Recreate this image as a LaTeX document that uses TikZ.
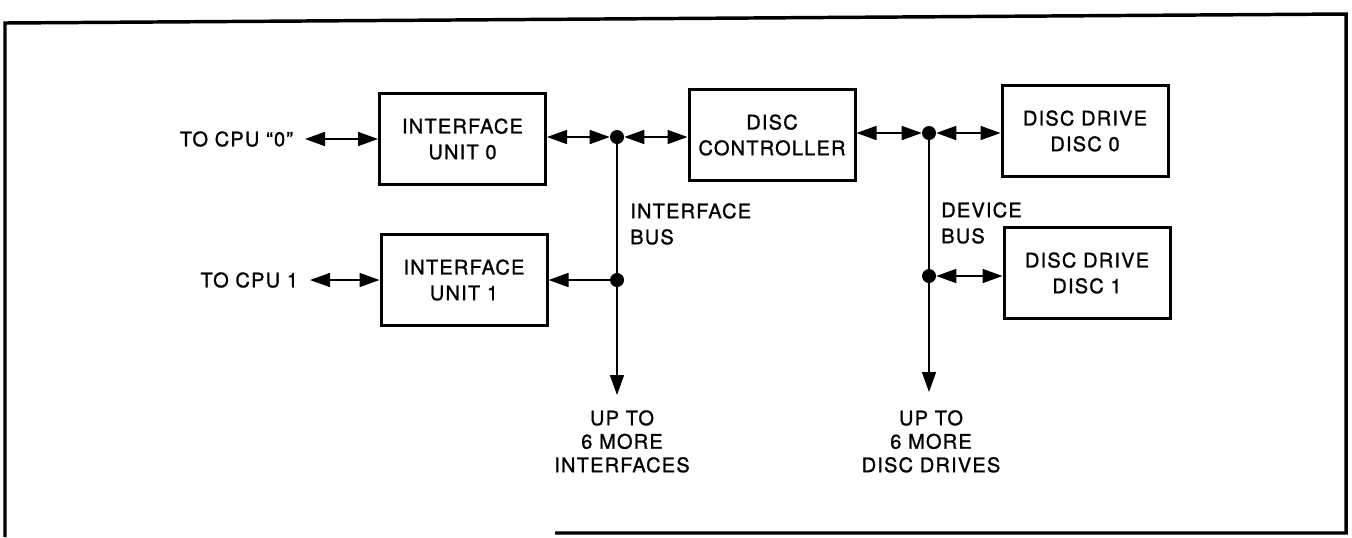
\documentclass[tikz,border=0pt]{standalone}
\usepackage{fontspec}
\setmainfont{TeX Gyre Heros}[LetterSpace=6,FakeBold=1.2]
\usetikzlibrary{arrows.meta}
\begin{document}
\begin{tikzpicture}[x=0.75pt,y=-0.75pt,
  box/.style={draw,line width=2.25pt,minimum width=124.5pt,minimum height=68.5pt,inner sep=0pt,align=center,font=\fontsize{15}{19.3}\selectfont},
  dot/.style={circle,fill,inner sep=0pt,minimum size=10.5pt},
  lbl/.style={inner sep=0pt,font=\fontsize{15}{19.5}\selectfont},
  lbl2/.style={inner sep=0pt,font=\fontsize{15}{17.6}\selectfont},
  conn/.style={line width=1.2pt},
  >={Triangle[length=15pt,width=10.5pt]}]
\useasboundingbox (0,0) rectangle (1352,537);
% frame
\draw[line width=2.6pt,line join=miter] (5,537) -- (5,23) -- (1346,14) -- (1346,533) -- (555,533);
% boxes
\node[box] (iu0) at (462.5,139) {INTERFACE\\UNIT 0};
\node[box] (iu1) at (464,280) {INTERFACE\\UNIT 1};
\node[box] (dc) at (772,135) {DISC\\CONTROLLER};
\node[box] (dd0) at (1085,131) {DISC DRIVE\\DISC 0};
\node[box] (dd1) at (1087,273) {DISC DRIVE\\DISC 1};
% bus junctions
\node[dot] (ib0) at (617,137) {};
\node[dot] (ib1) at (617,280) {};
\node[dot] (db0) at (929,133) {};
\node[dot] (db1) at (929,276) {};
\coordinate (ifend) at (617,395);
\coordinate (dvend) at (929,392);
% CPU labels
\node[lbl,anchor=east,outer xsep=9pt] (cpu0) at (305,139) {TO CPU ``0''};
\node[lbl,anchor=east,outer xsep=9pt] (cpu1) at (310,280) {TO CPU 1};
% bus labels
\node[lbl,anchor=north west,align=left] (ibl) at (630,203) {INTERFACE\\BUS};
\node[lbl,anchor=north west,align=left] (dbl) at (941,202) {DEVICE\\BUS};
\node[lbl2,anchor=north,align=center] (ifm) at (622,410) {UP TO\\6 MORE\\INTERFACES};
\node[lbl2,anchor=north,align=center] (dvm) at (931,410) {UP TO\\6 MORE\\DISC DRIVES};
% connectors
\draw[conn,<->] (cpu0.east) -- (iu0.west);
\draw[conn,<->] (cpu1.east) -- (iu1.west);
\draw[conn,<->] (iu0.east |- ib0) -- (ib0);
\draw[conn,<->] (ib0) -- (ib0 -| dc.west);
\draw[conn,<-] (iu1.east |- ib1) -- (ib1);
\draw[conn] (ib0) -- (ib1);
\draw[conn,->] (ib1) -- (ifend);
\draw[conn,<->] (dc.east |- db0) -- (db0);
\draw[conn,<->] (db0) -- (db0 -| dd0.west);
\draw[conn,<->] (db1) -- (db1 -| dd1.west);
\draw[conn] (db0) -- (db1);
\draw[conn,->] (db1) -- (dvend);
\end{tikzpicture}
\end{document}
